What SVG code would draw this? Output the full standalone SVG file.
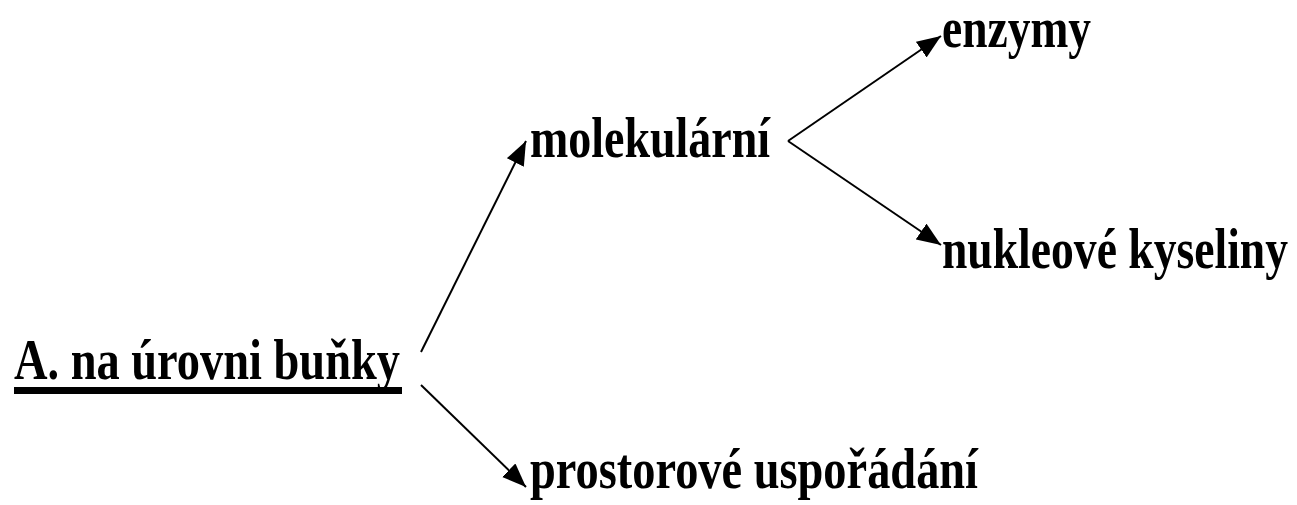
<svg xmlns="http://www.w3.org/2000/svg" width="1297" height="505" viewBox="0 0 1297 505">
<style>
.t{font-family:"Liberation Serif","Times New Roman",serif;font-weight:bold;font-size:57px;fill:#000}
.c{stroke:#000;stroke-width:2;fill:none}
</style>
<defs>
<marker id="ah" markerUnits="userSpaceOnUse" markerWidth="26" markerHeight="20" refX="24" refY="9.5" orient="auto">
<path d="M0,0 L24,9.5 L0,19 z" fill="#000"/>
</marker>
</defs>
<rect width="1297" height="505" fill="#fff"/>
<g id="connectors">
<line class="c" x1="421" y1="352" x2="526" y2="141" marker-end="url(#ah)"/>
<line class="c" x1="421" y1="385" x2="526" y2="487" marker-end="url(#ah)"/>
<line class="c" x1="788" y1="141" x2="941" y2="36" marker-end="url(#ah)"/>
<line class="c" x1="788" y1="141" x2="941" y2="245" marker-end="url(#ah)"/>
</g>
<g id="root">
<text class="t" x="14" y="379" textLength="386" lengthAdjust="spacingAndGlyphs">A. na úrovni buňky</text>
<rect x="14" y="387" width="388" height="7" fill="#000"/>
</g>
<g id="molekularni">
<text class="t" x="530" y="157" textLength="240" lengthAdjust="spacingAndGlyphs">molekulární</text>
</g>
<g id="enzymy">
<text class="t" x="942" y="47" textLength="149" lengthAdjust="spacingAndGlyphs">enzymy</text>
</g>
<g id="nukleove">
<text class="t" x="942" y="268" textLength="346" lengthAdjust="spacingAndGlyphs">nukleové kyseliny</text>
</g>
<g id="prostorove">
<text class="t" x="530" y="488" textLength="448" lengthAdjust="spacingAndGlyphs">prostorové uspořádání</text>
</g>
</svg>
